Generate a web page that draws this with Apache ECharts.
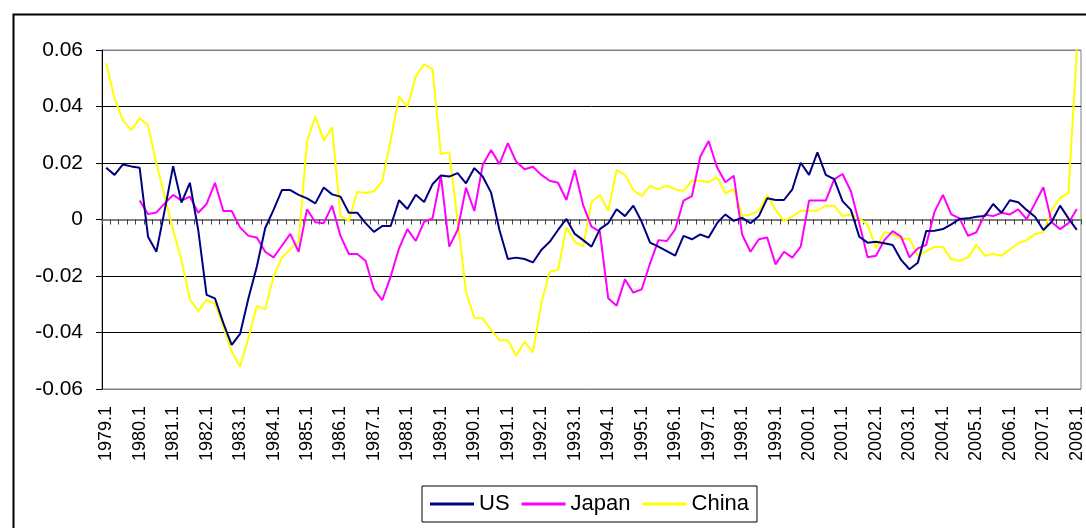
<!DOCTYPE html>
<html>
<head>
<meta charset="utf-8">
<script src="https://cdn.jsdelivr.net/npm/echarts@6/dist/echarts.min.js"></script>
<style>
  html, body { margin: 0; padding: 0; background: #fff; }
  #chart { width: 1086px; height: 528px; }
</style>
</head>
<body>
<div id="chart"></div>
<script>
// quarters 1979.1 .. 2008.1
var firstYear = 1979
var lastYear = 2008
var categories = []
for (var y = firstYear; y <= lastYear; y++) {
  for (var q = 1; q <= 4; q++) {
    if (y === lastYear && q > 1) break
    categories.push(y + '.' + q)
  }
}

var seriesNames = ['US', 'Japan', 'China']

var us = [
  0.0183, 0.0158, 0.0195, 0.0188, 0.0183, -0.0061, -0.0114, 0.0034, 0.0189, 0.0060,
  0.0130, -0.0037, -0.0267, -0.0279, -0.0367, -0.0444, -0.0405, -0.0279, -0.0167, -0.0031,
  0.0034, 0.0104, 0.0104, 0.0087, 0.0075, 0.0057, 0.0113, 0.0089, 0.0081, 0.0024,
  0.0024, -0.0013, -0.0044, -0.0023, -0.0023, 0.0068, 0.0037, 0.0088, 0.0062, 0.0125,
  0.0156, 0.0152, 0.0164, 0.0128, 0.0182, 0.0152, 0.0095, -0.0037, -0.0140, -0.0135,
  -0.0140, -0.0152, -0.0108, -0.0079, -0.0037, 0.0002, -0.0051, -0.0073, -0.0096, -0.0034,
  -0.0013, 0.0036, 0.0012, 0.0049, -0.0008, -0.0082, -0.0096, -0.0112, -0.0128, -0.0058,
  -0.0070, -0.0053, -0.0064, -0.0013, 0.0018, -0.0005, 0.0006, -0.0013, 0.0012, 0.0075,
  0.0069, 0.0069, 0.0107, 0.0201, 0.0158, 0.0238, 0.0158, 0.0143, 0.0065, 0.0034,
  -0.0061, -0.0082, -0.0079, -0.0084, -0.0090, -0.0143, -0.0176, -0.0153, -0.0041, -0.0040,
  -0.0034, -0.0017, 0.0002, 0.0004, 0.0010, 0.0012, 0.0055, 0.0024, 0.0068, 0.0061,
  0.0034, 0.0010, -0.0037, -0.0008, 0.0049, 0.0004, -0.0037
]

var japan = [
  null, null, null, null, 0.0067, 0.0019, 0.0025, 0.0057, 0.0087, 0.0067,
  0.0081, 0.0024, 0.0055, 0.0130, 0.0030, 0.0030, -0.0028, -0.0058, -0.0064, -0.0114,
  -0.0134, -0.0093, -0.0051, -0.0114, 0.0036, -0.0010, -0.0013, 0.0049, -0.0058, -0.0122,
  -0.0122, -0.0146, -0.0247, -0.0285, -0.0202, -0.0102, -0.0034, -0.0076, -0.0008, 0.0004,
  0.0155, -0.0096, -0.0037, 0.0113, 0.0030, 0.0193, 0.0246, 0.0196, 0.0270, 0.0205,
  0.0178, 0.0187, 0.0158, 0.0137, 0.0130, 0.0069, 0.0175, 0.0051, -0.0025, -0.0043,
  -0.0279, -0.0305, -0.0212, -0.0259, -0.0247, -0.0155, -0.0073, -0.0076, -0.0035, 0.0067,
  0.0083, 0.0222, 0.0278, 0.0185, 0.0132, 0.0155, -0.0053, -0.0114, -0.0070, -0.0064,
  -0.0159, -0.0114, -0.0135, -0.0096, 0.0067, 0.0067, 0.0067, 0.0142, 0.0161, 0.0100,
  -0.0013, -0.0134, -0.0128, -0.0073, -0.0041, -0.0061, -0.0134, -0.0102, -0.0090, 0.0028,
  0.0087, 0.0018, 0.0004, -0.0058, -0.0045, 0.0018, 0.0012, 0.0024, 0.0018, 0.0036,
  0.0001, 0.0057, 0.0114, -0.0010, -0.0034, -0.0013, 0.0037
]

var china = [
  0.0553, 0.0429, 0.0350, 0.0317, 0.0359, 0.0334, 0.0199, 0.0081, -0.0037, -0.0143,
  -0.0283, -0.0324, -0.0285, -0.0299, -0.0379, -0.0468, -0.0521, -0.0420, -0.0306, -0.0318,
  -0.0202, -0.0136, -0.0105, -0.0079, 0.0276, 0.0364, 0.0279, 0.0326, 0.0013, -0.0005,
  0.0098, 0.0094, 0.0100, 0.0136, 0.0281, 0.0435, 0.0399, 0.0506, 0.0550, 0.0532,
  0.0232, 0.0238, -0.0002, -0.0256, -0.0348, -0.0350, -0.0391, -0.0427, -0.0427, -0.0482,
  -0.0433, -0.0470, -0.0297, -0.0185, -0.0179, -0.0028, -0.0079, -0.0096, 0.0063, 0.0087,
  0.0031, 0.0175, 0.0158, 0.0104, 0.0083, 0.0119, 0.0107, 0.0120, 0.0107, 0.0101,
  0.0137, 0.0137, 0.0132, 0.0150, 0.0093, 0.0107, 0.0013, 0.0018, 0.0030, 0.0087,
  0.0034, -0.0005, 0.0010, 0.0031, 0.0031, 0.0031, 0.0049, 0.0049, 0.0012, 0.0018,
  0.0004, -0.0019, -0.0102, -0.0045, -0.0051, -0.0069, -0.0067, -0.0129, -0.0112, -0.0097,
  -0.0097, -0.0141, -0.0146, -0.0134, -0.0090, -0.0128, -0.0122, -0.0128, -0.0106, -0.0084,
  -0.0073, -0.0051, -0.0045, 0.0034, 0.0077, 0.0093, 0.0600
]

var colors = ['#000080', '#ff00ff', '#ffff00']
var fontFamily = 'Liberation Sans, Arial, sans-serif'

var myChart = echarts.init(document.getElementById('chart'), null, { renderer: 'canvas' })

var option = {
  animation: false,
  color: colors,
  graphic: [
    {
      type: 'rect',
      left: 11,
      top: 12,
      shape: { width: 1100, height: 600 },
      style: { fill: 'none', stroke: '#000', lineWidth: 2 },
      z: 0
    }
  ],
  grid: {
    left: 102,
    top: 50,
    right: 5,
    bottom: 139,
    show: true,
    borderColor: '#808080',
    borderWidth: 1,
    outerBoundsMode: 'none'
  },
  legend: {
    data: seriesNames,
    left: 422,
    top: 486,
    icon: 'rect',
    itemWidth: 44,
    itemHeight: 3,
    itemGap: 12,
    padding: [7, 8, 7, 8],
    borderColor: '#000',
    borderWidth: 1,
    backgroundColor: '#fff',
    textStyle: { fontSize: 22, color: '#000', fontFamily: fontFamily }
  },
  xAxis: [
    {
      type: 'category',
      data: categories,
      position: 'bottom',
      boundaryGap: true,
      axisLine: { show: false, onZero: false },
      axisTick: { show: false },
      axisLabel: {
        interval: 3,
        rotate: 90,
        margin: 17,
        fontSize: 18,
        color: '#000',
        fontFamily: fontFamily
      },
      splitLine: { show: false }
    },
    {
      type: 'category',
      data: categories,
      position: 'top',
      boundaryGap: true,
      axisLine: {
        show: true,
        onZero: true,
        lineStyle: { color: '#808080', width: 2 }
      },
      axisTick: {
        show: true,
        interval: 0,
        inside: true,
        length: 5,
        lineStyle: { color: '#404040', width: 1 }
      },
      axisLabel: { show: false },
      splitLine: { show: false }
    }
  ],
  yAxis: {
    type: 'value',
    min: -0.06,
    max: 0.06,
    interval: 0.02,
    axisLine: { show: true, lineStyle: { color: '#000', width: 1 } },
    axisTick: { show: true, length: 6, lineStyle: { color: '#000' } },
    axisLabel: {
      margin: 19,
      fontSize: 21,
      color: '#000',
      fontFamily: fontFamily,
      formatter: function (v) {
        if (Math.abs(v) < 1e-9) return '0'
        return v.toFixed(2)
      }
    },
    splitLine: {
      show: true,
      lineStyle: {
        color: ['#808080', '#000', '#000', '#808080', '#000', '#000', '#808080'],
        width: 1
      }
    }
  },
  series: [
    {
      name: 'US',
      type: 'line',
      data: us,
      symbol: 'none',
      lineStyle: { width: 2, color: colors[0] },
      z: 4
    },
    {
      name: 'Japan',
      type: 'line',
      data: japan,
      symbol: 'none',
      connectNulls: false,
      lineStyle: { width: 2, color: colors[1] },
      z: 3
    },
    {
      name: 'China',
      type: 'line',
      data: china,
      symbol: 'none',
      lineStyle: { width: 2, color: colors[2] },
      z: 2
    }
  ]
}

option && myChart.setOption(option)
</script>
</body>
</html>
